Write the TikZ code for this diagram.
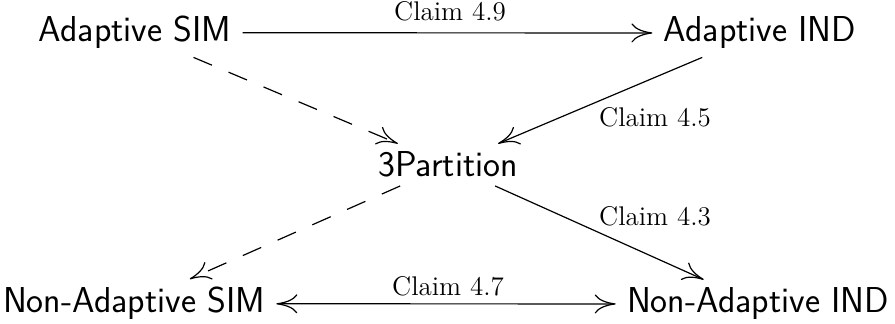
\documentclass[tikz,border=0pt]{standalone}
\usepackage{fontspec}
\usetikzlibrary{arrows.meta}
\tikzset{
  stmt/.style={font=\sffamily\fontsize{18}{22}\selectfont, inner xsep=5.5pt, inner ysep=4pt, anchor=base},
  claim/.style={font=\fontsize{13.5}{16}\selectfont, inner sep=0pt, anchor=base},
  implies/.style={line width=0.6pt, -{Computer Modern Rightarrow[length=10.5pt,width=9.5pt]}},
  both/.style={line width=0.6pt, {Computer Modern Rightarrow[length=10.5pt,width=9.5pt]}-{Computer Modern Rightarrow[length=10.5pt,width=9.5pt]}},
  dashedarrow/.style={implies, dash pattern=on 10pt off 9pt}
}
\begin{document}
\begin{tikzpicture}[x=0.5pt, y=-0.5pt]
\useasboundingbox (0,0) rectangle (895,324);
\node[stmt] (AS) at (135,42) {Adaptive SIM};
\node[stmt] (AI) at (760,42) {Adaptive IND};
\node[stmt] (P) at (448,177) {3Partition};
\node[stmt] (NS) at (134,313) {Non-Adaptive SIM};
\node[stmt] (NI) at (758,313) {Non-Adaptive IND};
\node[claim] (c49) at (450,21) {Claim 4.9};
\node[claim] (c45) at (655,127) {Claim 4.5};
\node[claim] (c43) at (655,226) {Claim 4.3};
\node[claim] (c47) at (448,296) {Claim 4.7};
\draw[implies] (AS) -- (AI);
\draw[dashedarrow] (AS) -- (P);
\draw[implies] (AI) -- (P);
\draw[implies] (P) -- (NI);
\draw[dashedarrow] (P) -- (NS);
\draw[both] (NS) -- (NI);
\end{tikzpicture}
\end{document}
